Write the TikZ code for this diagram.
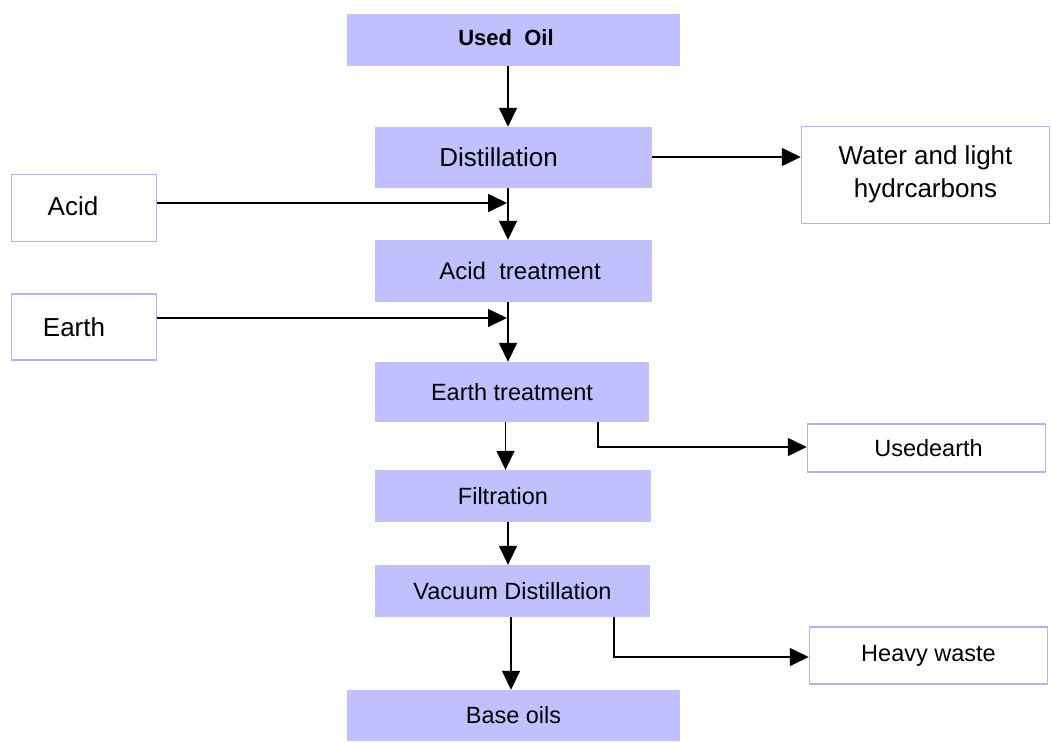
\documentclass[tikz,border=0pt]{standalone}
\usepackage{fontspec}
\setmainfont{Liberation Sans}
\usetikzlibrary{arrows.meta}
\definecolor{procfill}{RGB}{192,192,255}
\definecolor{boxline}{RGB}{176,176,255}
\tikzset{
  proc/.style={fill=procfill, draw=none, inner sep=0pt, align=center},
  side/.style={fill=white, draw=boxline, line width=1.5pt, inner sep=0pt, align=center},
  flow/.style={line width=1.6pt, -{Triangle[length=19pt,width=18pt]}},
  big/.style={font=\fontsize{26}{31}\selectfont},
  mid/.style={font=\fontsize{23.5}{28}\selectfont},
}
\begin{document}
\begin{tikzpicture}[x=1pt,y=-1pt]
\useasboundingbox (0,0) rectangle (1052,742);
% process boxes
\node[proc, minimum width=333pt, minimum height=52pt, font=\bfseries\fontsize{22}{26}\selectfont] (used) at (513.5,40) {\raisebox{5pt}{\hspace*{-15pt}Used\ \ Oil}};
\node[proc, big, minimum width=277pt, minimum height=61pt] (dist) at (513.5,157.5) {\hspace*{-30pt}Distillation};
\node[proc, minimum width=277pt, minimum height=62pt, font=\fontsize{24}{28}\selectfont] (acidt) at (513.5,271) {\hspace*{13pt}Acid\ \ treatment};
\node[proc, mid, minimum width=274pt, minimum height=60pt] (eartht) at (512,392) {Earth treatment};
\node[proc, mid, minimum width=276pt, minimum height=52pt] (filt) at (513,496) {\hspace*{-20pt}Filtration};
\node[proc, mid, minimum width=275pt, minimum height=52pt] (vac) at (512.5,591) {Vacuum Distillation};
\node[proc, mid, minimum width=333pt, minimum height=51pt] (base) at (513.5,715.5) {Base oils};
% side boxes
\node[side, big, minimum width=248pt, minimum height=97pt] (water) at (925.5,175) {\raisebox{-2pt}{\begin{tabular}{@{}c@{}}Water and light\\[2pt]hydrcarbons\end{tabular}}};
\node[side, big, minimum width=145pt, minimum height=67pt] (acid) at (84,208) {\raisebox{3pt}{\hspace*{-22pt}Acid}};
\node[side, big, minimum width=145pt, minimum height=66pt] (earth) at (84,327) {\hspace*{-20pt}Earth};
\node[side, mid, minimum width=238pt, minimum height=48pt] (usedearth) at (926.5,448) {\hspace*{4pt}Usedearth};
\node[side, mid, minimum width=238pt, minimum height=57pt] (heavy) at (928.5,655.5) {\raisebox{-3pt}{Heavy waste}};
% helper coordinates
\coordinate (c1) at (508,0);
\coordinate (c2) at (505.5,0);
\coordinate (c3) at (511,0);
\coordinate (ja) at (507,203);
\coordinate (je) at (507,318);
\coordinate (b1) at (598,447);
\coordinate (b2) at (614,657);
% connectors
\draw[flow] (dist.east |- water.west) ++(0,-18) coordinate (dw) -- (dw -| water.west);
\draw[flow] (used.south -| c1) -- (dist.north -| c1);
\draw[flow] (dist.south -| c1) -- (acidt.north -| c1);
\draw[flow] (ja -| acid.east) -- (ja);
\draw[flow] (acidt.south -| c1) -- (eartht.north -| c1);
\draw[flow] (je -| earth.east) -- (je);
\draw[flow] (eartht.south -| c2) -- (filt.north -| c2);
\draw[flow] (eartht.south -| b1) -- (b1) -- (b1 -| usedearth.west);
\draw[flow] (filt.south -| c1) -- (vac.north -| c1);
\draw[flow] (vac.south -| c3) -- (base.north -| c3);
\draw[flow] (vac.south -| b2) -- (b2) -- (b2 -| heavy.west);
\end{tikzpicture}
\end{document}
